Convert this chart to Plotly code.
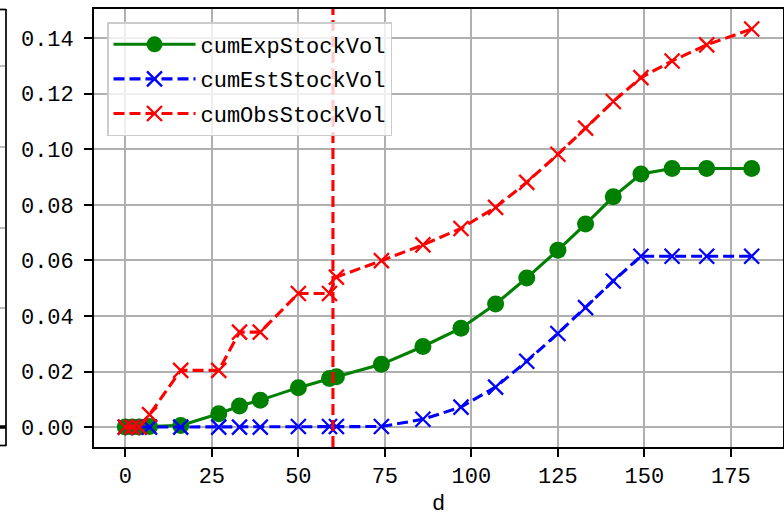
import plotly.graph_objects as go

# ---- data ----
d = [0, 2, 4, 7, 16, 27, 33, 39, 50, 59, 61, 74, 86, 97, 107, 116, 125, 133, 141, 149, 158, 168, 181]
cumExpStockVol = [0.0, 0.0, 0.0, 0.0002, 0.0006, 0.0048, 0.0076, 0.0097, 0.0142, 0.0175, 0.0181, 0.0226,
                  0.0290, 0.0356, 0.0443, 0.0537, 0.0637, 0.0731, 0.0829, 0.0911, 0.0931, 0.0931, 0.0931]
cumEstStockVol = [0.0, 0.0, 0.0, 0.0, 0.0, 0.0, 0.0, 0.0, 0.0002, 0.0002, 0.0002, 0.0002,
                  0.0028, 0.0072, 0.0144, 0.0237, 0.0337, 0.0430, 0.0526, 0.0615, 0.0615, 0.0615, 0.0615]
cumObsStockVol = [0.0, 0.0, 0.0, 0.0045, 0.0204, 0.0204, 0.0342, 0.0342, 0.0481, 0.0481, 0.0540, 0.0599,
                  0.0656, 0.0715, 0.0791, 0.0881, 0.0982, 0.1076, 0.1172, 0.1258, 0.1318, 0.1376, 0.1433]
vline_d = 60
x_ticks = [0, 25, 50, 75, 100, 125, 150, 175]
y_ticks = [0.00, 0.02, 0.04, 0.06, 0.08, 0.10, 0.12, 0.14]
y_ticklabels = ["0.00", "0.02", "0.04", "0.06", "0.08", "0.10", "0.12", "0.14"]

FONT = "Liberation Mono"
FS = 22
W, H = 784, 517
L, R, T, B = 94, 1, 9, 70
PW, PH = W - L - R, H - T - B

def px(x):
    return (x - L) / PW

def py(y):
    return 1 - (y - T) / PH

dash = "11px,5px"

fig = go.Figure()
fig.add_trace(go.Scatter(
    x=d, y=cumExpStockVol, name="cumExpStockVol", mode="lines+markers",
    line=dict(color="green", width=3.1),
    marker=dict(symbol="circle", size=17, color="green"),
    legendgroup="a"))
fig.add_trace(go.Scatter(
    x=d, y=cumEstStockVol, name="cumEstStockVol", mode="lines+markers",
    line=dict(color="blue", width=3.1, dash=dash),
    marker=dict(symbol="x-thin", size=15, color="blue", line=dict(color="blue", width=2.3)),
    legendgroup="b"))
fig.add_trace(go.Scatter(
    x=d, y=cumObsStockVol, name="cumObsStockVol", mode="lines+markers",
    line=dict(color="red", width=3.1, dash=dash),
    marker=dict(symbol="x-thin", size=15, color="red", line=dict(color="red", width=2.3)),
    legendgroup="c"))

fig.add_vline(x=vline_d, line=dict(color="red", width=3.1, dash=dash))

# fragment of the neighbouring panel on the left edge
shapes = []
lc = "black"
shapes.append(dict(type="line", xref="paper", yref="paper", x0=px(6), x1=px(6), y0=py(9), y1=py(446),
                   line=dict(color=lc, width=1.7)))
shapes.append(dict(type="line", xref="paper", yref="paper", x0=px(0), x1=px(6), y0=py(9.5), y1=py(9.5),
                   line=dict(color=lc, width=1.7)))
shapes.append(dict(type="line", xref="paper", yref="paper", x0=px(0), x1=px(6), y0=py(445.5), y1=py(445.5),
                   line=dict(color=lc, width=1.7)))
for gy in [66, 147, 228, 308]:
    shapes.append(dict(type="line", xref="paper", yref="paper", x0=px(0), x1=px(5), y0=py(gy), y1=py(gy),
                       line=dict(color="#b0b0b0", width=1.7)))
shapes.append(dict(type="line", xref="paper", yref="paper", x0=px(0), x1=px(6), y0=py(427), y1=py(427),
                   line=dict(color=lc, width=3.5)))
for s in shapes:
    fig.add_shape(**s)

fig.update_layout(
    width=W, height=H,
    margin=dict(l=L, r=R, t=T, b=B, pad=0, autoexpand=False),
    paper_bgcolor="white", plot_bgcolor="white",
    font=dict(family=FONT, size=FS, color="black"),
    showlegend=True,
    legend=dict(
        x=px(107), y=py(22), xanchor="left", yanchor="top",
        bgcolor="rgba(255,255,255,0.8)", bordercolor="#cccccc", borderwidth=1.5,
        font=dict(family=FONT, size=FS, color="black"),
        tracegroupgap=3, itemwidth=82, traceorder="grouped",
    ),
    xaxis=dict(
        range=[-9.05, 190.05], tickvals=x_ticks, showgrid=True, gridcolor="#b0b0b0", gridwidth=1.7,
        zeroline=False, showline=True, mirror=True, linecolor="black", linewidth=1.7,
        ticks="outside", ticklen=8, tickwidth=1.7, tickcolor="black", automargin=False,
        title=dict(text="d", standoff=13, font=dict(family=FONT, size=FS)),
        tickfont=dict(family=FONT, size=FS),
    ),
    yaxis=dict(
        range=[-0.00717, 0.1505], tickvals=y_ticks, ticktext=y_ticklabels, showgrid=True,
        gridcolor="#b0b0b0", gridwidth=1.7, automargin=False,
        zeroline=False, showline=True, mirror=True, linecolor="black", linewidth=1.7,
        ticks="outside", ticklen=8, tickwidth=1.7, tickcolor="black",
        tickfont=dict(family=FONT, size=FS), ticklabelstandoff=6,
    ),
)

fig.write_html("out.html", config={"displayModeBar": False},
               post_script="document.body.style.margin='0px';")
